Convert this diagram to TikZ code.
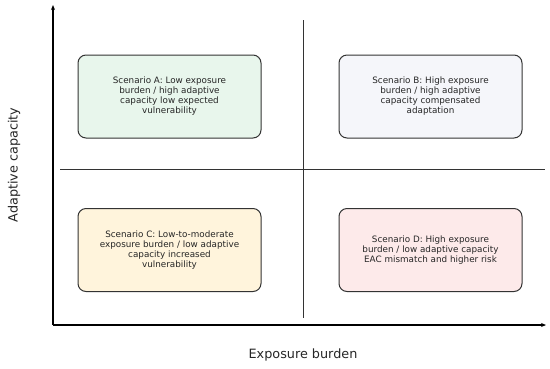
\documentclass[tikz,border=0pt]{standalone}
\usepackage{fontspec}
\setmainfont{DejaVu Sans}
\usetikzlibrary{arrows.meta,positioning}

\definecolor{fillA}{HTML}{E8F6EC}
\definecolor{fillB}{HTML}{F5F6FA}
\definecolor{fillC}{HTML}{FFF4DC}
\definecolor{fillD}{HTML}{FDEAEA}
\definecolor{edgegray}{HTML}{333333}

\begin{document}
\begin{tikzpicture}[x=1pt,y=-1pt,>={Stealth[length=5pt,width=4pt]},
                    scenario/.style={draw=edgegray,line width=1pt,rounded corners=8pt,
                      minimum width=183pt,minimum height=83pt,align=center,
                      font=\fontsize{8.8}{10}\selectfont,text=black!85},
                    axislabel/.style={font=\fontsize{12.8}{14}\selectfont,text=black!85}]
  \useasboundingbox (0,0) rectangle (550,368);
  % axes
  \coordinate (o)    at (53,325);
  \coordinate (ytop) at (53,5);
  \coordinate (xend) at (546,325);
  \draw[->,line width=1.3pt] (o) -- (ytop);
  \draw[->,line width=1.3pt] (o) -- (xend);
  % quadrant dividers
  \coordinate (vtop) at (303,20);
  \coordinate (vbot) at (303,318);
  \coordinate (hl)   at (60,169);
  \coordinate (hr)   at (545,169);
  \draw[line width=0.8pt,black!80] (vtop) -- (vbot);
  \draw[line width=0.8pt,black!80] (hl) -- (hr);
  % scenarios
  \node[scenario,fill=fillA] (scA) at (169.5,96.5)
    {Scenario A: Low exposure\\burden / high adaptive\\capacity low expected\\vulnerability};
  \node[scenario,fill=fillB] (scB) at (430.5,96.5)
    {Scenario B: High exposure\\burden / high adaptive\\capacity compensated\\adaptation};
  \node[scenario,fill=fillC] (scC) at (169.5,250)
    {Scenario C: Low-to-moderate\\exposure burden / low adaptive\\capacity increased\\vulnerability};
  \node[scenario,fill=fillD] (scD) at (430.5,250)
    {Scenario D: High exposure\\burden / low adaptive capacity\\EAC mismatch and higher risk};
  % axis labels
  \node[axislabel,rotate=90] (ylab) at (14,165) {Adaptive capacity};
  \node[axislabel] (xlab) at (303,355) {Exposure burden};
\end{tikzpicture}
\end{document}
